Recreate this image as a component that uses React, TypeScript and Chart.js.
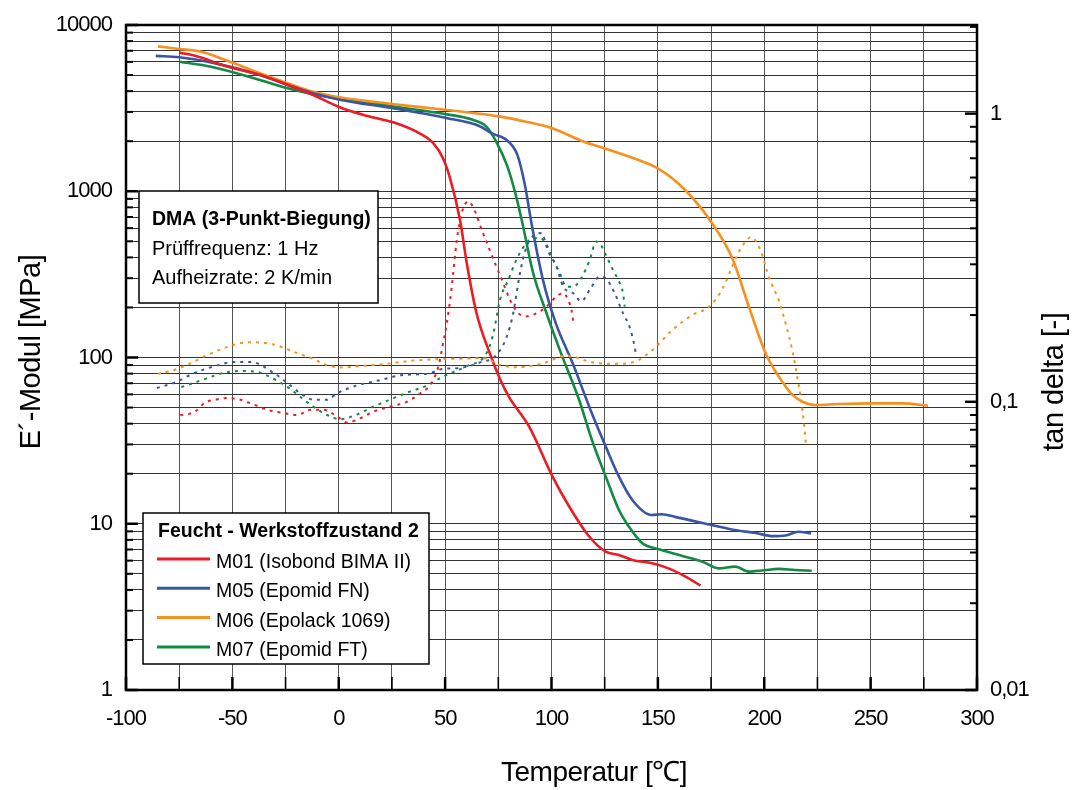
import React, { useEffect, useRef } from "react";
import { Chart, registerables } from "chart.js";

Chart.register(...registerables);

// ---------- DATA ----------
const xTickValues = [-100, -75, -50, -25, 0, 25, 50, 75, 100, 125, 150, 175, 200, 225, 250, 275, 300];
const xLabelValues = [-100, -50, 0, 50, 100, 150, 200, 250, 300];
const yDecades = [1, 10, 100, 1000];
const ySignificands = [1, 2, 3, 4, 5, 6, 7, 8, 9];
const yLabelValues = [1, 10, 100, 1000, 10000];
const y2Decades = [0.01, 0.1, 1];
const y2LabelValues = [0.01, 0.1, 1];
const y2LabelTexts = ["0,01", "0,1", "1"];

const seriesNames = ["M01 (Isobond BIMA II)", "M05 (Epomid FN)", "M06 (Epolack 1069)", "M07 (Epomid FT)"];
const seriesColors = ["#ED1C24", "#3B55A5", "#F7901E", "#138A43"];

// E' modulus (MPa), left axis
const m01ET = [-75, -68, -52, -37, -24, -12, 1, 13, 26, 38, 44.5, 49, 52.3, 57, 60.2, 64.8, 71, 76, 80, 89.5, 100.5, 108.3, 117.7, 125.5, 131.7, 138, 147.3, 155, 163, 170];
const m01E = [6820, 6550, 5610, 5000, 4360, 3790, 3180, 2850, 2590, 2230, 1940, 1580, 1200, 671, 368, 184, 106, 73.3, 58, 38.4, 19.2, 12.7, 8.38, 6.79, 6.49, 6.06, 5.78, 5.39, 4.81, 4.25];

const m05ET = [-86, -75, -60, -37, -24, -12, 1, 26, 51, 66, 72, 79, 84, 87.5, 90.6, 96, 102, 110, 119, 125.5, 131.7, 138, 147, 152, 158, 171, 186, 196, 204, 210, 216, 222];
const m05E = [6520, 6400, 5960, 5000, 4360, 3880, 3540, 3150, 2750, 2470, 2230, 2030, 1650, 1090, 641, 292, 161, 92, 46, 29.1, 19.2, 13.9, 11.3, 11.4, 11.0, 10.1, 9.17, 8.8, 8.42, 8.5, 8.95, 8.75];

const m06ET = [-85, -75, -65, -52, -37, -24, -12, 1, 26, 51, 76, 88, 100, 115, 125, 141, 150, 162, 175, 185, 193, 201, 209, 213, 218, 224, 235, 250, 265, 277];
const m06E = [7440, 7180, 6920, 6070, 5120, 4460, 3970, 3660, 3340, 3080, 2810, 2620, 2400, 1990, 1810, 1540, 1374, 1043, 656, 395, 198, 103.5, 70, 60, 54.2, 51.8, 52.5, 53, 53, 51.3];

const m07ET = [-75, -60, -37, -24, -12, 1, 26, 51, 63, 69.5, 74, 79, 82.8, 86, 91.4, 97.7, 104, 113, 119, 125.5, 131.7, 136.4, 142.7, 150.5, 160, 171, 178.6, 186.4, 192.7, 200, 206.7, 214.5, 222.3];
const m07E = [6010, 5610, 4670, 4160, 3830, 3590, 3230, 2900, 2690, 2440, 1990, 1440, 994, 671, 321, 184, 110, 55.5, 31.9, 19.2, 12.1, 9.6, 7.63, 7.02, 6.48, 5.91, 5.39, 5.52, 5.15, 5.25, 5.35, 5.27, 5.22];

// tan delta, right axis
const m01TT = [-74.5, -70.3, -66.4, -63.3, -57, -52.3, -46.1, -39.8, -33.6, -25.8, -19.5, -13.3, -7, -0.8, 3.9, 10.2, 16.4, 22.7, 32, 38.3, 43, 46.9, 48.9, 50.8, 53.1, 55.5, 57.8, 60.9, 64.1, 67.2, 70.3, 73.4, 76.6, 80.5, 84.4, 88.3, 93, 97.7, 102.3, 105.5, 107.8, 109.4, 110.2];
const m01Tan = [0.09, 0.0908, 0.0938, 0.099, 0.102, 0.103, 0.1016, 0.0977, 0.0938, 0.0914, 0.09, 0.0938, 0.0938, 0.089, 0.0848, 0.0877, 0.0925, 0.0957, 0.1, 0.107, 0.1146, 0.133, 0.158, 0.1875, 0.251, 0.365, 0.452, 0.496, 0.457, 0.395, 0.346, 0.303, 0.266, 0.226, 0.203, 0.198, 0.203, 0.214, 0.232, 0.238, 0.226, 0.208, 0.19];

const m05TT = [-85.5, -77, -68, -58.6, -49, -41.4, -30.5, -24, -18, -11.7, -5.5, -0.8, 7, 19.5, 30.5, 41.4, 49, 57, 66.4, 74.2, 79, 82, 85.2, 88.3, 92.2, 95.3, 98.4, 102.3, 105.5, 110.2, 114, 118, 122.7, 125.8, 129.7, 133.6, 136.7, 139.1, 139.8];
const m05Tan = [0.1117, 0.1167, 0.1258, 0.1327, 0.1375, 0.1375, 0.1258, 0.116, 0.107, 0.1016, 0.1016, 0.107, 0.113, 0.119, 0.124, 0.125, 0.13, 0.131, 0.137, 0.1455, 0.1685, 0.203, 0.28, 0.346, 0.38, 0.385, 0.333, 0.295, 0.251, 0.238, 0.223, 0.245, 0.272, 0.267, 0.238, 0.203, 0.182, 0.155, 0.144];

const m06TT = [-85, -78, -70, -62.5, -54, -46, -41, -30.5, -19.5, -11.7, -5.5, 1, 10, 23, 35, 48, 55, 68, 76, 84, 96, 107, 119.5, 130.5, 139, 147.7, 157, 166.4, 174.2, 180.5, 186.7, 190, 193.75, 198.4, 202.3, 207, 210.2, 213.3, 215.6, 217.2, 218.75, 219.5];
const m06Tan = [0.125, 0.1285, 0.1356, 0.1445, 0.1535, 0.16, 0.161, 0.158, 0.1475, 0.1406, 0.134, 0.1315, 0.133, 0.1356, 0.139, 0.1406, 0.141, 0.1417, 0.134, 0.1318, 0.136, 0.1445, 0.137, 0.1355, 0.1375, 0.152, 0.178, 0.2005, 0.214, 0.248, 0.316, 0.35, 0.373, 0.333, 0.269, 0.223, 0.185, 0.1495, 0.121, 0.103, 0.083, 0.072];

const m07TT = [-74, -66.4, -54, -46, -38.3, -30.5, -22.7, -14.8, -5.5, 0.8, 7, 16.4, 25.8, 33.6, 41.4, 49.2, 60.2, 69.5, 72.7, 75.8, 79.7, 82.8, 86, 89.8, 94.5, 97.7, 100.8, 103.9, 107, 110.2, 114, 118, 121, 122.7, 125.8, 128.9, 131.3, 133.6, 134.4];
const m07Tan = [0.1125, 0.1175, 0.126, 0.128, 0.127, 0.12, 0.1107, 0.0995, 0.09, 0.087, 0.0894, 0.0963, 0.103, 0.1086, 0.1137, 0.1226, 0.133, 0.1476, 0.173, 0.226, 0.265, 0.303, 0.337, 0.365, 0.37, 0.351, 0.311, 0.28, 0.251, 0.251, 0.269, 0.311, 0.36, 0.355, 0.32, 0.287, 0.265, 0.238, 0.214];

const infoLines = ["DMA (3-Punkt-Biegung)", "Prüffrequenz: 1 Hz", "Aufheizrate: 2 K/min"];
const legendTitle = "Feucht - Werkstoffzustand 2";
const xTitle = "Temperatur [℃]";
const yTitle = "E´-Modul [MPa]";
const y2Title = "tan delta [-]";

// ---------- HELPERS ----------
const pts = (xs: number[], ys: number[]) => xs.map((x, i) => ({ x, y: ys[i] }));
const FONT = "'Liberation Sans', Arial, Helvetica, sans-serif";
const isPow10 = (v: number) => Math.abs(Math.log10(v) - Math.round(Math.log10(v))) < 1e-9;
const zeroPad = (axis: any) => {
  axis.paddingTop = 0;
  axis.paddingBottom = 0;
  axis.paddingLeft = 0;
  axis.paddingRight = 0;
};

const spacingPlugin = {
  id: "spacing",
  beforeDraw(chart: any) {
    (chart.ctx as any).letterSpacing = "-1px";
  },
};

const overlayPlugin = {
  id: "overlay",
  afterDraw(chart: any) {
    const { ctx, chartArea: a, scales } = chart;
    ctx.save();
    ctx.strokeStyle = "#000";
    ctx.lineCap = "butt";
    // inward ticks, x axis
    scales.x.ticks.forEach((t: any) => {
      const px = scales.x.getPixelForValue(t.value);
      const major = t.value % 50 === 0;
      ctx.lineWidth = major ? 2.5 : 1.6;
      ctx.beginPath();
      ctx.moveTo(px, a.bottom);
      ctx.lineTo(px, a.bottom - 13);
      ctx.stroke();
    });
    // left axis ticks
    scales.y.ticks.forEach((t: any) => {
      const py = scales.y.getPixelForValue(t.value);
      const major = isPow10(t.value);
      ctx.lineWidth = major ? 2.5 : 2;
      ctx.beginPath();
      ctx.moveTo(a.left, py);
      ctx.lineTo(a.left + (major ? 12 : 7), py);
      ctx.stroke();
    });
    // right axis ticks
    scales.y2.ticks.forEach((t: any) => {
      const py = scales.y2.getPixelForValue(t.value);
      const major = isPow10(t.value);
      ctx.lineWidth = major ? 2.5 : 2;
      ctx.beginPath();
      ctx.moveTo(a.right, py);
      ctx.lineTo(a.right - (major ? 12 : 7), py);
      ctx.stroke();
    });
    // frame
    ctx.lineWidth = 2.5;
    ctx.strokeRect(a.left, a.top, a.right - a.left, a.bottom - a.top);

    // axis titles
    (ctx as any).letterSpacing = "-0.5px";
    ctx.fillStyle = "#000";
    ctx.textAlign = "center";
    ctx.textBaseline = "middle";
    ctx.font = `28px ${FONT}`;
    ctx.fillText(xTitle, 594, 773);
    ctx.font = `29px ${FONT}`;
    ctx.save();
    ctx.translate(32, 352);
    ctx.rotate(-Math.PI / 2);
    ctx.fillText(yTitle, 0, 0);
    ctx.restore();
    ctx.save();
    ctx.translate(1055, 382);
    ctx.rotate(-Math.PI / 2);
    ctx.fillText(y2Title, 0, 0);
    ctx.restore();

    // info box
    (ctx as any).letterSpacing = "0px";
    ctx.textAlign = "left";
    ctx.textBaseline = "alphabetic";
    ctx.fillStyle = "#fff";
    ctx.fillRect(139, 191, 239, 112);
    ctx.lineWidth = 1.5;
    ctx.strokeRect(139, 191, 239, 112);
    ctx.fillStyle = "#000";
    infoLines.forEach((line, i) => {
      ctx.font = i === 0 ? `bold 19.5px ${FONT}` : `20px ${FONT}`;
      ctx.fillText(line, 152, 225 + i * 29.5);
    });

    // legend box
    ctx.fillStyle = "#fff";
    ctx.fillRect(143, 513, 286, 151);
    ctx.lineWidth = 1.5;
    ctx.strokeRect(143, 513, 286, 151);
    ctx.fillStyle = "#000";
    ctx.font = `bold 19.5px ${FONT}`;
    ctx.fillText(legendTitle, 158, 537);
    ctx.font = `19.5px ${FONT}`;
    seriesNames.forEach((name, i) => {
      ctx.strokeStyle = seriesColors[i];
      ctx.lineWidth = 3;
      ctx.beginPath();
      ctx.moveTo(157, 559 + i * 29.3);
      ctx.lineTo(210, 559 + i * 29.3);
      ctx.stroke();
      ctx.fillStyle = "#000";
      ctx.fillText(name, 216, 568 + i * 29.3);
    });
    ctx.restore();
  },
};

export default function App() {
  const ref = useRef<HTMLCanvasElement | null>(null);

  useEffect(() => {
    if (!ref.current) return;
    const solid = (label: string, color: string, xs: number[], ys: number[]) => ({
      label,
      data: pts(xs, ys),
      yAxisID: "y",
      borderColor: color,
      backgroundColor: color,
      borderWidth: 2.6,
      pointRadius: 0,
      cubicInterpolationMode: "monotone" as const,
      fill: false,
    });
    const dotted = (label: string, color: string, xs: number[], ys: number[]) => ({
      label,
      data: pts(xs, ys),
      yAxisID: "y2",
      borderColor: color,
      backgroundColor: color,
      borderWidth: 2,
      borderDash: [3, 5],
      pointRadius: 0,
      cubicInterpolationMode: "monotone" as const,
      fill: false,
    });

    const chart = new Chart(ref.current, {
      type: "line",
      data: {
        datasets: [
          dotted(seriesNames[0] + " tan δ", seriesColors[0], m01TT, m01Tan),
          dotted(seriesNames[1] + " tan δ", seriesColors[1], m05TT, m05Tan),
          dotted(seriesNames[2] + " tan δ", seriesColors[2], m06TT, m06Tan),
          dotted(seriesNames[3] + " tan δ", seriesColors[3], m07TT, m07Tan),
          solid(seriesNames[0], seriesColors[0], m01ET, m01E),
          solid(seriesNames[1], seriesColors[1], m05ET, m05E),
          solid(seriesNames[2], seriesColors[2], m06ET, m06E),
          solid(seriesNames[3], seriesColors[3], m07ET, m07E),
        ],
      },
      options: {
        responsive: false,
        animation: false,
        devicePixelRatio: 1,
        layout: { padding: { top: 25, left: 0, right: 0, bottom: 0 } },
        plugins: { legend: { display: false }, tooltip: { enabled: false } },
        scales: {
          x: {
            type: "linear",
            min: -100,
            max: 300,
            afterBuildTicks: (axis: any) => {
              axis.ticks = xTickValues.map((v) => ({ value: v }));
            },
            afterFit: (axis: any) => {
              axis.height = 100;
              zeroPad(axis);
            },
            ticks: {
              autoSkip: false,
              maxRotation: 0,
              padding: 16,
              color: "#000",
              font: { family: FONT, size: 22 },
              callback: (v: any) => (xLabelValues.includes(Number(v)) ? String(v) : ""),
            },
            grid: { color: "#555", lineWidth: 1, drawTicks: false },
            border: { display: false },
          },
          y: {
            type: "logarithmic",
            position: "left",
            min: 1,
            max: 10000,
            afterBuildTicks: (axis: any) => {
              const t: any[] = [];
              yDecades.forEach((d) => ySignificands.forEach((s) => t.push({ value: s * d })));
              t.push({ value: 10000 });
              axis.ticks = t;
            },
            afterFit: (axis: any) => {
              axis.width = 126;
              zeroPad(axis);
            },
            ticks: {
              autoSkip: false,
              padding: 14,
              color: "#000",
              font: { family: FONT, size: 22 },
              callback: (v: any) => (yLabelValues.includes(Number(v)) ? String(v) : ""),
            },
            grid: { color: "#333", lineWidth: 1, drawTicks: false },
            border: { display: false },
          },
          y2: {
            type: "logarithmic",
            position: "right",
            min: 0.01,
            max: 2.03,
            afterBuildTicks: (axis: any) => {
              const t: any[] = [];
              y2Decades.forEach((d) =>
                ySignificands.forEach((s) => {
                  const v = Math.round(s * d * 1000) / 1000;
                  if (v <= 2.03) t.push({ value: v });
                })
              );
              axis.ticks = t;
            },
            afterFit: (axis: any) => {
              axis.width = 96;
              zeroPad(axis);
            },
            ticks: {
              autoSkip: false,
              padding: 13,
              color: "#000",
              font: { family: FONT, size: 22 },
              callback: (v: any) => {
                const idx = y2LabelValues.findIndex((l) => Math.abs(l - Number(v)) < 1e-9);
                return idx >= 0 ? y2LabelTexts[idx] : "";
              },
            },
            grid: { display: false, drawTicks: false },
            border: { display: false },
          },
        },
      },
      plugins: [spacingPlugin, overlayPlugin],
    } as any);

    return () => chart.destroy();
  }, []);

  return (
    <div style={{ position: "absolute", left: 0, top: 0, width: 1073, height: 790, background: "#fff" }}>
      <canvas ref={ref} width={1073} height={790} style={{ display: "block" }} />
    </div>
  );
}
